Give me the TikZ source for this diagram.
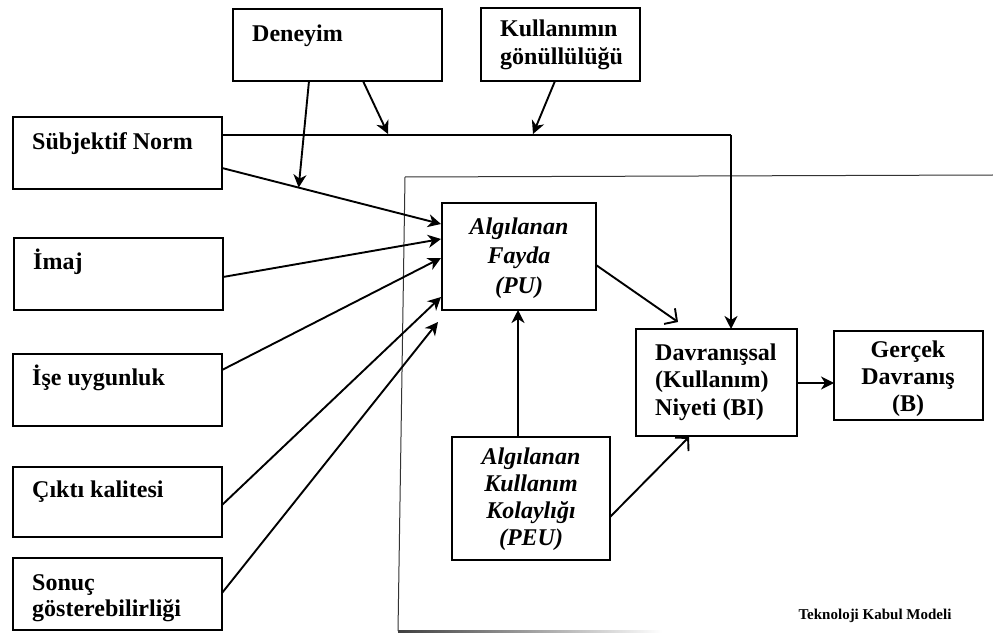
\documentclass[tikz,border=0pt]{standalone}
\usepackage{fontspec}
\setmainfont{Liberation Serif}
\usetikzlibrary{arrows.meta,calc}
\begin{document}
\begin{tikzpicture}[x=1pt,y=-1pt,
  box/.style={draw, line width=1.9pt, anchor=north west, inner sep=0pt, outer sep=0pt},
  lbl/.style={anchor=base west, inner sep=0pt, font=\fontsize{24}{27}\selectfont\bfseries},
  clbl/.style={align=center, inner sep=0pt, font=\fontsize{24}{27}\selectfont\bfseries\itshape},
  feed/.style={line width=1.9pt, -{Stealth[length=13pt,width=13pt,inset=4pt]}},
  openarr/.style={line width=1.9pt, -{Straight Barb[length=9pt,width=19pt]}},
  framel/.style={line width=1pt, draw=black!80}]

\useasboundingbox (0,0) rectangle (993,636);

% boxes
\node[box, minimum width=209pt, minimum height=72pt] (den) at (233,9) {};
\node[box, minimum width=159pt, minimum height=73pt] (kul) at (481,8) {};
\node[box, minimum width=209pt, minimum height=72pt] (sn)  at (13,117) {};
\node[box, minimum width=209pt, minimum height=72pt] (im)  at (14,238) {};
\node[box, minimum width=209pt, minimum height=72pt] (ise) at (13,354) {};
\node[box, minimum width=209pt, minimum height=70pt] (cik) at (13,467) {};
\node[box, minimum width=209pt, minimum height=72pt] (son) at (13,558) {};
\node[box, minimum width=154pt, minimum height=107pt] (pu)  at (442,203) {};
\node[box, minimum width=158pt, minimum height=123pt] (peu) at (452,437) {};
\node[box, minimum width=161pt, minimum height=107pt] (bi)  at (636,329) {};
\node[box, minimum width=149pt, minimum height=89pt] (b)   at (834,331) {};

% box texts
\node[lbl] (den-t)  at (252,42) {Deneyim};
\node[lbl] (kul-t1) at (500,37) {Kullanımın};
\node[lbl] (kul-t2) at (500,65) {gönüllülüğü};
\node[lbl] (sn-t)   at (32,150) {Sübjektif Norm};
\node[lbl] (im-t)   at (33,270) {İmaj};
\node[lbl] (ise-t)  at (32,385) {İşe uygunluk};
\node[lbl] (cik-t)  at (32,497) {Çıktı kalitesi};
\node[lbl] (son-t1) at (32,590) {Sonuç};
\node[lbl] (son-t2) at (32,616) {gösterebilirliği};
\node[clbl, font=\fontsize{24}{29.5}\selectfont\bfseries\itshape] (pu-t) at (519,258) {Algılanan\\Fayda\\(PU)};
\node[clbl] (peu-t) at (531,499) {Algılanan\\Kullanım\\Kolaylığı\\(PEU)};
\node[align=left, anchor=west, inner sep=0pt, font=\fontsize{24}{27.5}\selectfont\bfseries] (bi-t) at (655,382) {Davranışsal\\(Kullanım)\\Niyeti (BI)};
\node[align=center, inner sep=0pt, font=\fontsize{24}{27}\selectfont\bfseries] (b-t) at (908,379) {Gerçek\\Davranış\\(B)};

% frame
\draw[framel] (405,177) -- (993,175);
\draw[framel] (405,177) -- (398,631);
\shade[left color=black!75, right color=white] (398,630.2) rectangle (662,632);
\node[anchor=base, inner sep=0pt, font=\fontsize{15}{18}\selectfont\bfseries] (cap) at (875,619) {Teknoloji Kabul Modeli};

% subjective norm to intention
\coordinate (h0) at ($(sn.north east)+(0,18)$);
\coordinate (h1) at ($(bi.north west)+(95,0)$);
\draw[line width=1.2pt] (h0) -- (h0 -| h1);
\draw[feed] (h0 -| h1) -- (h1);

% inputs to perceived usefulness
\coordinate (sn-o) at ($(sn.north east)+(0,51)$);
\coordinate (sn-i) at ($(pu.north west)+(-1,21)$);
\draw[feed] (sn-o) -- (sn-i);
\draw[feed] ($(im.north east)+(0,39)$) -- ($(pu.north west)+(-1,36)$);
\draw[feed] ($(ise.north east)+(0,16)$) -- ($(pu.north west)+(-1,55)$);
\draw[feed] ($(cik.north east)+(0,38)$) -- ($(pu.north west)+(-1,94)$);
\draw[feed] ($(son.north east)+(0,35)$) -- ($(pu.south west)+(-4,12)$);

% moderators
\coordinate (m1) at ($(sn-o)!0.35!(sn-i)$);
\draw[feed] ($(den.south west)+(76,0)$) -- (m1);
\draw[feed] ($(den.south west)+(130,0)$) -- ($(h0 -| 388,0)+(0,-1)$);
\draw[feed] ($(kul.south west)+(74,0)$) -- ($(h0 -| 533,0)+(0,-1)$);

% core model
\coordinate (peu-up) at ($(peu.north west)+(66,0)$);
\draw[feed] (peu-up) -- (peu-up |- pu.south);
\draw[openarr] ($(pu.north east)+(0,62)$) -- ($(bi.north west)+(42,-7)$);
\draw[openarr] ($(peu.north east)+(0,80)$) -- ($(bi.south west)+(53,1)$);
\coordinate (bi-o) at ($(bi.north east)+(0,54)$);
\draw[feed] (bi-o) -- (bi-o -| b.west);

\end{tikzpicture}
\end{document}
